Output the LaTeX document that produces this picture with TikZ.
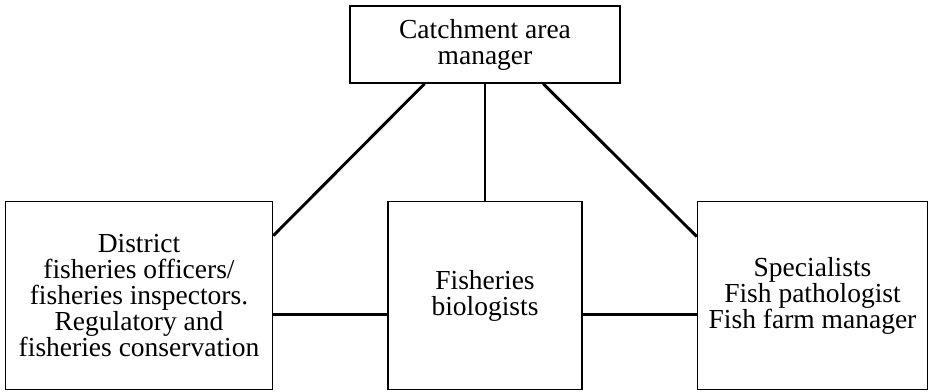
\documentclass[tikz,border=0pt]{standalone}
\usepackage{fontspec}
\setmainfont{Liberation Serif}
\usetikzlibrary{positioning}

\tikzset{
  unit/.style = {draw, line width=1.5pt, align=center, inner sep=0pt,
                 minimum height=188pt, font=\fontsize{27.5}{26}\selectfont},
  link/.style = {line width=2.9pt}
}

\begin{document}
\begin{tikzpicture}[x=1pt, y=1pt, node distance=114pt]
  \useasboundingbox (0,0) rectangle (928,391);
  \node[unit, minimum width=270pt, minimum height=77pt] (manager) at (485,346.5)
       {Catchment area\\manager};
  \node[unit, minimum width=194pt] (biol) [below=117pt of manager]
       {Fisheries\\biologists};
  \node[unit, minimum width=267pt] (district) [left=of biol]
       {District\\fisheries officers/\\fisheries inspectors.\\Regulatory and\\fisheries conservation};
  \node[unit, minimum width=230pt] (spec) [right=of biol]
       {Specialists\\Fish pathologist\\Fish farm manager};
  % lines down from the manager
  \draw[link] (manager.213.6) -- (district.24.2);
  \draw[link] (manager.south) -- (biol.north);
  \draw[link] (manager.326.4) -- (spec.153.2);
  % lines across
  \draw[link] ([yshift=-19pt]district.east) -- ([yshift=-19pt]biol.west);
  \draw[link] ([yshift=-19pt]biol.east) -- ([yshift=-19pt]spec.west);
\end{tikzpicture}
\end{document}
